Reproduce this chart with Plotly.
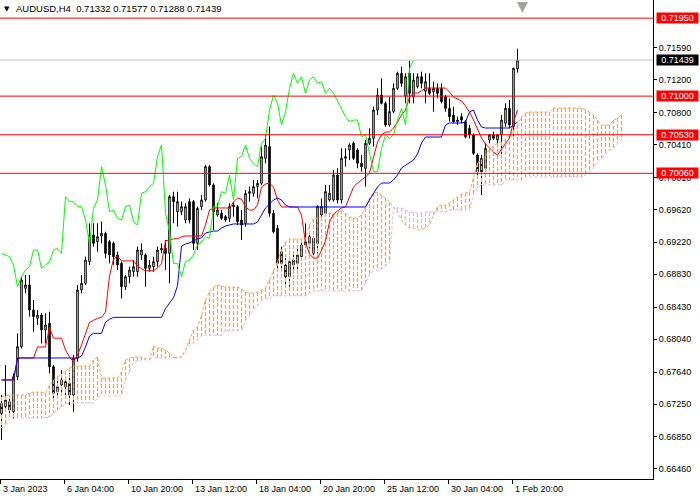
import plotly.graph_objects as go

# ---------------- data (AUDUSD H4) ----------------
opens = [0.67258,0.67218,0.67279,0.67157,0.67583,0.67949,0.68659,0.68700,0.68395,0.68294,
0.68334,0.68152,0.68233,0.67705,0.67400,0.67482,0.67522,0.67502,0.67360,0.67806,
0.68639,0.68720,0.68984,0.69309,0.69228,0.69296,0.69329,0.69228,0.69207,0.69065,
0.68964,0.68679,0.68801,0.68862,0.68862,0.69065,0.69065,0.68903,0.68923,0.68984,
0.69126,0.69146,0.69085,0.69776,0.69593,0.69593,0.69491,0.69715,0.69715,0.69207,
0.69654,0.69735,0.70141,0.69918,0.69552,0.69573,0.69532,0.69512,0.69654,0.69654,
0.69491,0.69451,0.69816,0.69816,0.69898,0.69938,0.70243,0.70385,0.69573,0.69390,
0.69106,0.68943,0.68801,0.68943,0.68963,0.69045,0.69187,0.69207,0.69085,0.69207,
0.69552,0.69573,0.69735,0.69735,0.70040,0.69735,0.70243,0.70344,0.70426,0.70344,
0.70182,0.70121,0.70426,0.70486,0.70831,0.71014,0.70912,0.70649,0.70811,0.71095,
0.71278,0.71000,0.71278,0.70990,0.71115,0.71237,0.71060,0.71095,0.71054,0.71095,
0.71095,0.70994,0.70851,0.70770,0.70689,0.70750,0.70689,0.70608,0.70527,0.70283,
0.70242,0.70121,0.70466,0.70527,0.70466,0.70527,0.70669,0.70851,0.70628,0.71332]
highs = [0.67360,0.67725,0.67340,0.67624,0.68111,0.68801,0.68822,0.68822,0.68517,0.68395,
0.68355,0.68355,0.68375,0.67725,0.67583,0.67664,0.67583,0.67624,0.67847,0.68700,
0.68822,0.69045,0.69451,0.69451,0.69451,0.69471,0.69349,0.69248,0.69228,0.69106,
0.68984,0.68822,0.68923,0.69004,0.69167,0.69207,0.69085,0.69004,0.69045,0.69167,
0.69207,0.69248,0.69796,0.69837,0.69837,0.69715,0.69695,0.69755,0.69735,0.69654,
0.69796,0.70161,0.70161,0.69938,0.69695,0.69613,0.69552,0.69695,0.69715,0.69674,
0.69613,0.69857,0.69898,0.69979,0.69979,0.70385,0.70527,0.70628,0.69613,0.69430,
0.69167,0.69045,0.69045,0.69106,0.69167,0.69248,0.69451,0.69349,0.69288,0.69670,
0.69755,0.69918,0.69918,0.70100,0.70121,0.70364,0.70364,0.70426,0.70446,0.70364,
0.70283,0.70466,0.70608,0.70872,0.71095,0.71217,0.70933,0.70994,0.71156,0.71298,
0.71359,0.71278,0.71432,0.71278,0.71278,0.71298,0.71278,0.71278,0.71176,0.71156,
0.71156,0.71014,0.70973,0.70872,0.70750,0.70791,0.70709,0.70649,0.70547,0.70303,
0.70283,0.70425,0.70540,0.70567,0.70540,0.70770,0.70912,0.70953,0.71345,0.71577]
lows = [0.66812,0.67177,0.67096,0.67075,0.67543,0.67928,0.68598,0.68314,0.68131,0.68213,
0.67989,0.67989,0.67624,0.67279,0.67340,0.67360,0.67360,0.67238,0.67157,0.67766,
0.68598,0.68700,0.68943,0.69167,0.69106,0.69207,0.69025,0.68964,0.68943,0.68882,
0.68537,0.68639,0.68720,0.68801,0.68801,0.69004,0.68679,0.68862,0.68862,0.68923,
0.69085,0.68882,0.68720,0.69451,0.69410,0.69552,0.69451,0.69451,0.69126,0.69126,
0.69613,0.69715,0.69898,0.69370,0.69532,0.69491,0.69471,0.69471,0.69532,0.69430,
0.69248,0.69410,0.69715,0.69776,0.69755,0.69918,0.70182,0.69532,0.69329,0.68903,
0.68882,0.68679,0.68679,0.68842,0.68842,0.69024,0.69167,0.69146,0.69045,0.69085,
0.69532,0.69552,0.69715,0.69715,0.69694,0.69694,0.70141,0.70222,0.70222,0.70121,
0.70080,0.69898,0.70405,0.70385,0.70770,0.70900,0.70628,0.70628,0.70790,0.71075,
0.71115,0.70912,0.70912,0.70912,0.71095,0.71095,0.70912,0.71014,0.70811,0.70973,
0.70912,0.70811,0.70689,0.70669,0.70649,0.70669,0.70486,0.70486,0.70283,0.70019,
0.69796,0.70080,0.70425,0.70466,0.70385,0.70283,0.70628,0.70608,0.70466,0.71288]
closes = [0.67136,0.67299,0.67177,0.67583,0.67949,0.68761,0.68700,0.68395,0.68314,0.68334,
0.68152,0.68213,0.67705,0.67380,0.67461,0.67543,0.67461,0.67360,0.67806,0.68639,
0.68720,0.69004,0.69309,0.69207,0.69288,0.69329,0.69085,0.69065,0.69045,0.68943,
0.68679,0.68801,0.68882,0.68923,0.69126,0.69126,0.68903,0.68943,0.68984,0.69126,
0.69146,0.69085,0.69776,0.69715,0.69715,0.69654,0.69654,0.69491,0.69207,0.69634,
0.69735,0.70141,0.69918,0.69593,0.69613,0.69512,0.69491,0.69654,0.69674,0.69471,
0.69430,0.69816,0.69837,0.69898,0.69938,0.70263,0.70405,0.69573,0.69349,0.68963,
0.68963,0.68801,0.68984,0.69004,0.69065,0.69187,0.69228,0.69288,0.69268,0.69654,
0.69654,0.69837,0.69816,0.70040,0.69735,0.70243,0.70263,0.70405,0.70243,0.70182,
0.70141,0.70426,0.70486,0.70831,0.71014,0.70912,0.70649,0.70811,0.71095,0.71278,
0.71156,0.71237,0.71034,0.71197,0.71237,0.71156,0.71176,0.71034,0.71095,0.71034,
0.70933,0.70851,0.70750,0.70689,0.70709,0.70709,0.70506,0.70527,0.70303,0.70080,
0.70080,0.70364,0.70527,0.70486,0.70527,0.70709,0.70851,0.70649,0.71339,0.71439]

tenkan = [0.67543,0.67543,0.67543,0.67543,0.67811,0.67811,0.67811,0.67811,0.67811,0.67945,
0.67945,0.67945,0.68184,0.68052,0.68052,0.68052,0.67908,0.67823,0.67762,0.67847,
0.67969,0.68111,0.68245,0.68270,0.68294,0.68306,0.68371,0.68812,0.69016,0.69052,
0.68993,0.68993,0.68993,0.68993,0.68934,0.68897,0.68873,0.68873,0.68873,0.68909,
0.68958,0.69237,0.69250,0.69262,0.69262,0.69286,0.69297,0.69297,0.69297,0.69297,
0.69297,0.69430,0.69613,0.69638,0.69638,0.69638,0.69638,0.69638,0.69711,0.69759,
0.69747,0.69650,0.69613,0.69613,0.69674,0.69893,0.69930,0.69942,0.69893,0.69735,
0.69650,0.69650,0.69650,0.69650,0.69650,0.69552,0.69213,0.69077,0.69027,0.69027,
0.69121,0.69237,0.69467,0.69565,0.69601,0.69638,0.69650,0.69784,0.69893,0.69942,
0.69979,0.70015,0.70064,0.70247,0.70441,0.70527,0.70563,0.70563,0.70612,0.70685,
0.70770,0.70831,0.70990,0.71038,0.71038,0.71063,0.71099,0.71099,0.71099,0.71099,
0.71099,0.71099,0.71050,0.70990,0.70965,0.70941,0.70880,0.70807,0.70710,0.70588,
0.70490,0.70417,0.70368,0.70320,0.70283,0.70356,0.70417,0.70490,0.70685,0.70831]
kijun = [0.67543,0.67543,0.67543,0.67543,0.67811,0.67811,0.67811,0.67811,0.67811,0.67811,
0.67811,0.67811,0.67811,0.67811,0.67811,0.67811,0.67811,0.67811,0.67811,0.67811,
0.67835,0.67945,0.68079,0.68111,0.68111,0.68111,0.68245,0.68282,0.68306,0.68306,
0.68306,0.68306,0.68306,0.68306,0.68306,0.68306,0.68306,0.68306,0.68306,0.68306,
0.68306,0.68414,0.68476,0.68545,0.68690,0.69175,0.69199,0.69213,0.69237,0.69262,
0.69274,0.69333,0.69345,0.69357,0.69357,0.69394,0.69418,0.69430,0.69443,0.69443,
0.69443,0.69443,0.69443,0.69443,0.69467,0.69552,0.69638,0.69686,0.69735,0.69759,
0.69735,0.69674,0.69650,0.69650,0.69650,0.69650,0.69650,0.69650,0.69650,0.69650,
0.69650,0.69650,0.69650,0.69650,0.69650,0.69650,0.69650,0.69650,0.69650,0.69650,
0.69650,0.69650,0.69735,0.69820,0.69893,0.69942,0.69942,0.69942,0.69979,0.70040,
0.70125,0.70161,0.70186,0.70222,0.70295,0.70429,0.70502,0.70502,0.70502,0.70502,
0.70502,0.70649,0.70673,0.70673,0.70673,0.70673,0.70685,0.70807,0.70831,0.70710,
0.70624,0.70612,0.70612,0.70612,0.70612,0.70612,0.70612,0.70612,0.70649,0.70685]
span_a = [0.67336,0.67348,0.67360,0.67360,0.67360,0.67360,0.67360,0.67384,0.67396,0.67396,
0.67396,0.67384,0.67478,0.67543,0.67579,0.67616,0.67652,0.67689,0.67713,0.67713,
0.67713,0.67713,0.67713,0.67786,0.67823,0.67567,0.67567,0.67567,0.67567,0.67567,
0.67640,0.67786,0.67811,0.67823,0.67823,0.67823,0.67786,0.67786,0.67957,0.67933,
0.67933,0.67908,0.67871,0.67823,0.67811,0.67823,0.67908,0.68030,0.68152,0.68188,
0.68334,0.68517,0.68614,0.68675,0.68700,0.68688,0.68675,0.68675,0.68675,0.68675,
0.68651,0.68614,0.68602,0.68602,0.68614,0.68639,0.68663,0.68761,0.68882,0.68980,
0.69126,0.69223,0.69260,0.69260,0.69260,0.69260,0.69272,0.69431,0.69504,0.69516,
0.69528,0.69577,0.69577,0.69552,0.69577,0.69613,0.69577,0.69528,0.69516,0.69516,
0.69552,0.69638,0.69759,0.69820,0.69832,0.69796,0.69759,0.69711,0.69650,0.69589,
0.69491,0.69430,0.69394,0.69394,0.69370,0.69370,0.69394,0.69430,0.69552,0.69650,
0.69674,0.69674,0.69698,0.69735,0.69772,0.69808,0.69820,0.69832,0.70003,0.70186,
0.70222,0.70271,0.70356,0.70393,0.70429,0.70441,0.70478,0.70527,0.70588,0.70649,
0.70746,0.70795,0.70807,0.70807,0.70807,0.70807,0.70807,0.70807,0.70856,0.70856,
0.70856,0.70856,0.70856,0.70856,0.70856,0.70856,0.70831,0.70807,0.70770,0.70710,
0.70649,0.70649,0.70649,0.70710,0.70734,0.70770]
span_b = [0.66958,0.66995,0.67080,0.67092,0.67080,0.67080,0.67080,0.67080,0.67080,0.67080,
0.67080,0.67080,0.67092,0.67140,0.67177,0.67214,0.67250,0.67263,0.67263,0.67263,
0.67263,0.67263,0.67263,0.67263,0.67324,0.67348,0.67348,0.67348,0.67348,0.67348,
0.67348,0.67543,0.67640,0.67750,0.67774,0.67786,0.67811,0.67811,0.67811,0.67811,
0.67811,0.67811,0.67811,0.67811,0.67811,0.67823,0.67908,0.67969,0.67993,0.68030,
0.68088,0.68088,0.68088,0.68088,0.68088,0.68088,0.68147,0.68147,0.68147,0.68147,
0.68147,0.68270,0.68334,0.68393,0.68450,0.68511,0.68535,0.68535,0.68568,0.68568,
0.68568,0.68568,0.68568,0.68568,0.68568,0.68568,0.68568,0.68605,0.68629,0.68629,
0.68629,0.68629,0.68629,0.68629,0.68629,0.68629,0.68629,0.68629,0.68629,0.68629,
0.68629,0.68726,0.68836,0.68873,0.68873,0.68897,0.68934,0.68970,0.69650,0.69638,
0.69638,0.69613,0.69589,0.69589,0.69577,0.69577,0.69589,0.69589,0.69589,0.69589,
0.69589,0.69589,0.69613,0.69613,0.69613,0.69613,0.69613,0.69613,0.69796,0.69881,
0.69918,0.69918,0.69918,0.69918,0.69918,0.69918,0.69979,0.69979,0.69979,0.69979,
0.69979,0.70015,0.70015,0.70015,0.70015,0.70015,0.70015,0.70015,0.70015,0.70015,
0.70015,0.70015,0.70015,0.70015,0.70015,0.70015,0.70040,0.70076,0.70125,0.70198,
0.70247,0.70283,0.70344,0.70368,0.70429,0.70466]

chikou_shift = 26
levels = [0.71950, 0.71000, 0.70530, 0.70060]
last_price = 0.71439
price_ticks = [0.71590, 0.71200, 0.70800, 0.70410, 0.70010, 0.69620, 0.69220,
               0.68830, 0.68430, 0.68040, 0.67640, 0.67250, 0.66850, 0.66460]
time_labels = ["3 Jan 2023", "6 Jan 04:00", "10 Jan 20:00", "13 Jan 12:00",
               "18 Jan 04:00", "20 Jan 20:00", "25 Jan 12:00", "30 Jan 04:00",
               "1 Feb 20:00"]
time_label_bars = [0, 16, 32, 48, 64, 80, 96, 112, 128]
title_text = "AUDUSD,H4\u00a0\u00a00.71332 0.71577 0.71288 0.71439"

FONT = "Liberation Sans, Arial, sans-serif"
n = len(closes)
xs = list(range(n))

fig = go.Figure()

# candles
fig.add_trace(go.Candlestick(
    x=xs, open=opens, high=highs, low=lows, close=closes,
    increasing=dict(fillcolor="white", line=dict(color="black", width=1)),
    decreasing=dict(fillcolor="black", line=dict(color="black", width=1)),
    whiskerwidth=0, hoverinfo="skip", showlegend=False))

# cloud hatch (sandy brown where span A above span B, thistle otherwise)
bx, by, tx, ty = [], [], [], []
for i, (a, b) in enumerate(zip(span_a, span_b)):
    if a >= b:
        bx += [i, i, None]; by += [a, b, None]
    else:
        tx += [i, i, None]; ty += [b, a, None]
fig.add_trace(go.Scatter(x=bx, y=by, mode="lines", line=dict(color="#F4A460", width=1.25, dash="4px,2px"),
                         hoverinfo="skip", showlegend=False))
fig.add_trace(go.Scatter(x=tx, y=ty, mode="lines", line=dict(color="#D8BFD8", width=1.25, dash="4px,2px"),
                         hoverinfo="skip", showlegend=False))
xa = list(range(len(span_a)))
fig.add_trace(go.Scatter(x=xa, y=span_b, mode="lines", line=dict(color="#D8BFD8", width=1, dash="3px,2px"),
                         hoverinfo="skip", showlegend=False))
fig.add_trace(go.Scatter(x=xa, y=span_a, mode="lines", line=dict(color="#F4A460", width=1, dash="3px,2px"),
                         hoverinfo="skip", showlegend=False))

# tenkan / kijun / chikou
fig.add_trace(go.Scatter(x=xs, y=tenkan, mode="lines", line=dict(color="#FF0000", width=1),
                         hoverinfo="skip", showlegend=False))
fig.add_trace(go.Scatter(x=xs, y=kijun, mode="lines", line=dict(color="#0000FF", width=1),
                         hoverinfo="skip", showlegend=False))
fig.add_trace(go.Scatter(x=xs[:n - chikou_shift], y=closes[chikou_shift:], mode="lines",
                         line=dict(color="#00FF00", width=1), hoverinfo="skip", showlegend=False))

# horizontal levels
for lv in levels:
    fig.add_shape(type="line", xref="paper", x0=0, x1=1, yref="y", y0=lv, y1=lv,
                  line=dict(color="#FF0000", width=1))
    fig.add_annotation(xref="paper", x=1, xanchor="left", xshift=3, yref="y", y=lv,
                       text=f"{lv:.5f}", showarrow=False, bgcolor="#FF0000",
                       font=dict(family=FONT, size=9, color="white"),
                       width=41, height=10, borderpad=0)
fig.add_shape(type="line", xref="paper", x0=0, x1=1, yref="y", y0=last_price, y1=last_price,
              line=dict(color="#C0C0C0", width=1))
fig.add_annotation(xref="paper", x=1, xanchor="left", xshift=3, yref="y", y=last_price,
                   text=f"{last_price:.5f}", showarrow=False, bgcolor="black",
                   font=dict(family=FONT, size=9, color="white"),
                   width=41, height=10, borderpad=0)

# time labels (left-aligned to right of tick)
tick_pos = [b - 0.3 for b in time_label_bars]
for tp, lab in zip(tick_pos, time_labels):
    fig.add_annotation(xref="x", x=tp, xanchor="left", xshift=1, yref="paper", y=0,
                       yanchor="top", yshift=-3, text=lab, showarrow=False,
                       font=dict(family=FONT, size=9, color="black"))

# title
fig.add_annotation(xref="paper", x=0, xanchor="left", xshift=2, yref="paper", y=1,
                   yanchor="top", yshift=-3, text="\u25BC", showarrow=False,
                   font=dict(family="DejaVu Sans", size=7, color="black"))
fig.add_annotation(xref="paper", x=0, xanchor="left", xshift=14, yref="paper", y=1,
                   yanchor="top", yshift=-1, text=title_text, showarrow=False,
                   font=dict(family=FONT, size=9.5, color="black"))
# chart shift marker
fig.add_annotation(xref="x", x=n + 0.3, yref="paper", y=1, yanchor="top", yshift=4,
                   text="\u25BC", showarrow=False,
                   font=dict(family="DejaVu Sans", size=14, color="#A0A0A0"))

fig.update_layout(
    width=700, height=500, margin=dict(l=0, r=47, t=0, b=21),
    paper_bgcolor="white", plot_bgcolor="white", boxgap=0.45, showlegend=False,
    xaxis=dict(range=[-0.375, 162.875], showgrid=False, zeroline=False, showline=True,
               linecolor="black", linewidth=1, ticks="outside", ticklen=4, tickcolor="black",
               tickvals=tick_pos, showticklabels=False, rangeslider=dict(visible=False),
               fixedrange=True),
    yaxis=dict(range=[0.66337, 0.72171], side="right", showgrid=False, zeroline=False,
               showline=True, linecolor="black", linewidth=1, ticks="outside", ticklen=3,
               tickcolor="black", tickvals=price_ticks,
               ticktext=[f"{t:.5f}" for t in price_ticks],
               tickfont=dict(family=FONT, size=9, color="black"), fixedrange=True),
)

fig.write_html("out.html", config={"displayModeBar": False},
               post_script="document.body.style.margin='0px';document.body.style.padding='0px';")
